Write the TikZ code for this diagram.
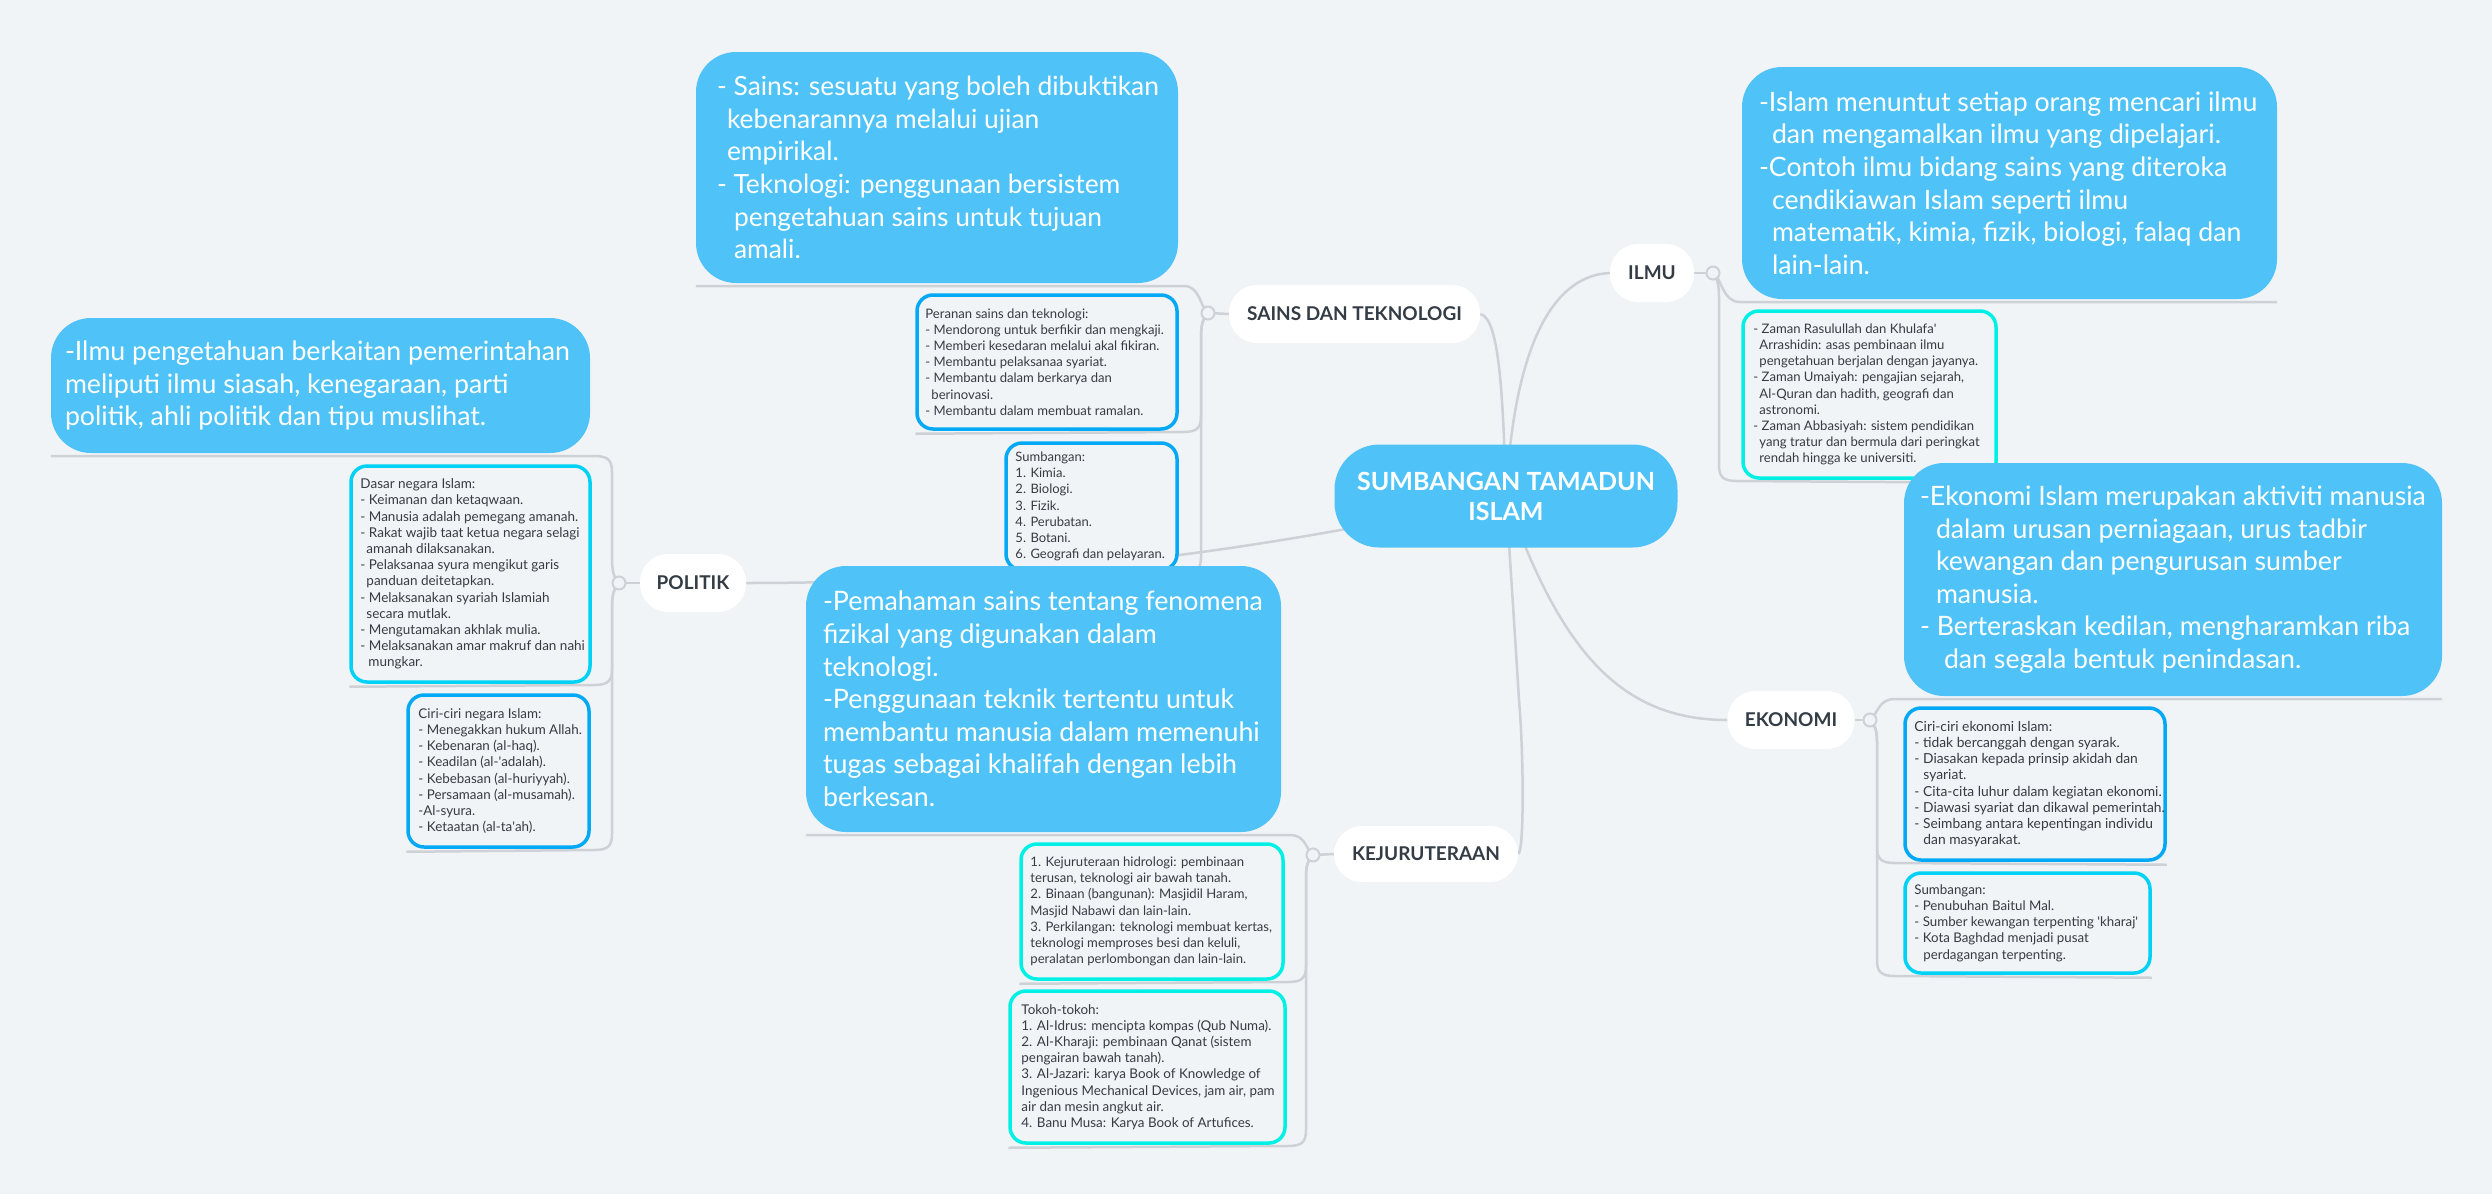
\documentclass[tikz,border=0pt]{standalone}
\usepackage{fontspec}
\setmainfont{Lato}
\usetikzlibrary{backgrounds}
\definecolor{bgc}{RGB}{240,244,247}
\definecolor{conn}{RGB}{206,210,214}
\definecolor{bfill}{RGB}{79,195,247}
\definecolor{bluebd}{RGB}{3,169,244}
\definecolor{cyanbd}{RGB}{0,210,245}
\definecolor{aquabd}{RGB}{0,240,230}
\definecolor{txt}{RGB}{55,60,66}
\definecolor{head}{RGB}{52,60,70}
\newcommand{\aq}{\textquotesingle}
\begin{document}
\begin{tikzpicture}[x=1pt,y=-1pt,
  conline/.style={draw=conn, line width=2.5pt},
  bigbox/.style={fill=bfill, rounded corners=40pt, inner sep=0pt},
  bigtext/.style={text=white, font=\fontsize{#1}{32.6}\selectfont, align=left, inner sep=0pt, anchor=west},
  smallbox/.style={draw=#1, line width=3.5pt, fill=bgc, rounded corners=16pt, inner sep=0pt},
  smalltext/.style={text=txt, font=\fontsize{#1}{16.2}\selectfont, align=left, inner sep=0pt, anchor=west},
  topic/.style={fill=white, rounded corners=28pt, inner sep=0pt, font=\bfseries\fontsize{19}{22}\selectfont, text=head},
  knob/.style={circle, draw=conn, line width=2pt, fill=bgc, minimum size=13pt, inner sep=0pt},
]
\useasboundingbox (0,0) rectangle (2492,1194);
\begin{scope}[on background layer]
\fill[bgc] (0,0) rectangle (2492,1194);
\end{scope}

% ---------- central ----------
\node[bigbox, rounded corners=45pt, minimum width=343pt, minimum height=103pt, text=white,
  font=\bfseries\fontsize{25}{30}\selectfont, align=center] (central) at (1506,496) {SUMBANGAN TAMADUN\\ISLAM};

% ---------- topics ----------
\node[topic, minimum width=251pt, minimum height=58pt] (sains) at (1354.5,314) {SAINS DAN TEKNOLOGI};
\node[topic, minimum width=84pt, minimum height=58pt] (ilmu) at (1652,273) {ILMU};
\node[topic, minimum width=127pt, minimum height=58pt] (eko) at (1791,720) {EKONOMI};
\node[topic, minimum width=184pt, minimum height=56pt] (kej) at (1426,854) {KEJURUTERAAN};
\node[topic, minimum width=106pt, minimum height=58pt] (politik) at (693,583) {POLITIK};

% ---------- SAINS children ----------
\node[bigbox, minimum width=482pt, minimum height=231pt] (sainsbox) at (937,167.5) {};
\node[bigtext=26.4] (sainstxt) at ([xshift=21pt]sainsbox.west) {- Sains: sesuatu yang boleh dibuktikan\\\hspace*{10pt}kebenarannya melalui ujian\\\hspace*{10pt}empirikal.\\- Teknologi: penggunaan bersistem\\\hspace*{17pt}pengetahuan sains untuk tujuan\\\hspace*{17pt}amali.};
\node[smallbox=bluebd, minimum width=260pt, minimum height=134pt] (peranan) at (1047,362) {};
\node[smalltext=13.1] (perananT) at ([xshift=10pt]peranan.west) {Peranan sains dan teknologi:\\- Mendorong untuk berfikir dan mengkaji.\\- Memberi kesedaran melalui akal fikiran.\\- Membantu pelaksanaa syariat.\\- Membantu dalam berkarya dan\\\hspace*{6pt}berinovasi.\\- Membantu dalam membuat ramalan.};
\node[smallbox=bluebd, minimum width=171pt, minimum height=127pt] (sumbs) at (1091.5,506.5) {};
\node[smalltext=13.0] (sumbsT) at ([xshift=11pt]sumbs.west) {Sumbangan:\\1. Kimia.\\2. Biologi.\\3. Fizik.\\4. Perubatan.\\5. Botani.\\6. Geografi dan pelayaran.};

% ---------- ILMU children ----------
\node[bigbox, minimum width=535pt, minimum height=232pt] (ilmubox) at (2009.5,183) {};
\node[bigtext=26.7] (ilmutxt) at ([xshift=17pt]ilmubox.west) {-Islam menuntut setiap orang mencari ilmu\\\hspace*{13pt}dan mengamalkan ilmu yang dipelajari.\\-Contoh ilmu bidang sains yang diteroka\\\hspace*{13pt}cendikiawan Islam seperti ilmu\\\hspace*{13pt}matematik, kimia, fizik, biologi, falaq dan\\\hspace*{13pt}lain-lain.};
\node[smallbox=aquabd, minimum width=253pt, minimum height=167pt] (ilmucyan) at (1869.5,394.5) {};
\node[smalltext=13.1] (ilmucyanT) at ([xshift=12pt]ilmucyan.west) {- Zaman Rasulullah dan Khulafa\aq\\\hspace*{6pt}Arrashidin: asas pembinaan ilmu\\\hspace*{6pt}pengetahuan berjalan dengan jayanya.\\- Zaman Umaiyah: pengajian sejarah,\\\hspace*{6pt}Al-Quran dan hadith, geografi dan\\\hspace*{6pt}astronomi.\\- Zaman Abbasiyah: sistem pendidikan\\\hspace*{6pt}yang tratur dan bermula dari peringkat\\\hspace*{6pt}rendah hingga ke universiti.};

% ---------- EKONOMI children ----------
\node[bigbox, minimum width=538pt, minimum height=233pt] (ekobox) at (2173,579.5) {};
\node[bigtext=26.7] (ekotxt) at ([xshift=16pt]ekobox.west) {-Ekonomi Islam merupakan aktiviti manusia\\\hspace*{16pt}dalam urusan perniagaan, urus tadbir\\\hspace*{16pt}kewangan dan pengurusan sumber\\\hspace*{16pt}manusia.\\- Berteraskan kedilan, mengharamkan riba\\\hspace*{24pt}dan segala bentuk penindasan.};
\node[smallbox=bluebd, minimum width=260pt, minimum height=152pt] (eko1) at (2035,784) {};
\node[smalltext=13.8] (eko1T) at ([xshift=11pt]eko1.west) {Ciri-ciri ekonomi Islam:\\- tidak bercanggah dengan syarak.\\- Diasakan kepada prinsip akidah dan\\\hspace*{9pt}syariat.\\- Cita-cita luhur dalam kegiatan ekonomi.\\- Diawasi syariat dan dikawal pemerintah.\\- Seimbang antara kepentingan individu\\\hspace*{9pt}dan masyarakat.};
\node[smallbox=cyanbd, minimum width=245pt, minimum height=100pt] (eko2) at (2027.5,923) {};
\node[smalltext=13.3] (eko2T) at ([xshift=11pt]eko2.west) {Sumbangan:\\- Penubuhan Baitul Mal.\\- Sumber kewangan terpenting \aq kharaj\aq\\- Kota Baghdad menjadi pusat\\\hspace*{9pt}perdagangan terpenting.};

% ---------- KEJURUTERAAN children ----------
\node[bigbox, minimum width=475pt, minimum height=266pt] (pemahaman) at (1043.5,699) {};
\node[bigtext=26.8] (pemahamanT) at ([xshift=17pt]pemahaman.west) {-Pemahaman sains tentang fenomena\\fizikal yang digunakan dalam\\teknologi.\\-Penggunaan teknik tertentu untuk\\membantu manusia dalam memenuhi\\tugas sebagai khalifah dengan lebih\\berkesan.};
\node[smallbox=aquabd, minimum width=262pt, minimum height=135pt] (kej1) at (1152,911.5) {};
\node[smalltext=13.1] (kej1T) at ([xshift=11pt]kej1.west) {1. Kejuruteraan hidrologi: pembinaan\\terusan, teknologi air bawah tanah.\\2. Binaan (bangunan): Masjidil Haram,\\Masjid Nabawi dan lain-lain.\\3. Perkilangan: teknologi membuat kertas,\\teknologi memproses besi dan keluli,\\peralatan perlombongan dan lain-lain.};
\node[smallbox=aquabd, minimum width=275pt, minimum height=152pt] (kej2) at (1147.5,1067) {};
\node[smalltext=13.4] (kej2T) at ([xshift=13pt]kej2.west) {Tokoh-tokoh:\\1. Al-Idrus: mencipta kompas (Qub Numa).\\2. Al-Kharaji: pembinaan Qanat (sistem\\pengairan bawah tanah).\\3. Al-Jazari: karya Book of Knowledge of\\Ingenious Mechanical Devices, jam air, pam\\air dan mesin angkut air.\\4. Banu Musa: Karya Book of Artufices.};

% ---------- POLITIK children ----------
\node[bigbox, minimum width=539pt, minimum height=135pt] (polbox) at (320.5,385.5) {};
\node[bigtext=26.7] (poltxt) at ([xshift=14pt]polbox.west) {-Ilmu pengetahuan berkaitan pemerintahan\\meliputi ilmu siasah, kenegaraan, parti\\politik, ahli politik dan tipu muslihat.};
\node[smallbox=cyanbd, minimum width=239pt, minimum height=216pt] (dasar) at (470.5,574) {};
\node[smalltext=13.5] (dasarT) at ([xshift=11pt]dasar.west) {Dasar negara Islam:\\- Keimanan dan ketaqwaan.\\- Manusia adalah pemegang amanah.\\- Rakat wajib taat ketua negara selagi\\\hspace*{6pt}amanah dilaksanakan.\\- Pelaksanaa syura mengikut garis\\\hspace*{6pt}panduan deitetapkan.\\- Melaksanakan syariah Islamiah\\\hspace*{6pt}secara mutlak.\\- Mengutamakan akhlak mulia.\\- Melaksanakan amar makruf dan nahi\\\hspace*{8pt}mungkar.};
\node[smallbox=bluebd, minimum width=181pt, minimum height=152pt] (ciri) at (498.5,771) {};
\node[smalltext=13.4] (ciriT) at ([xshift=12pt]ciri.west) {Ciri-ciri negara Islam:\\- Menegakkan hukum Allah.\\- Kebenaran (al-haq).\\- Keadilan (al-\aq adalah).\\- Kebebasan (al-huriyyah).\\- Persamaan (al-musamah).\\-Al-syura.\\- Ketaatan (al-ta\aq ah).};

% ---------- knobs ----------
\node[knob] (ksains) at (1208,313) {};
\node[knob] (kilmu) at (1713,273) {};
\node[knob] (keko) at (1870,720) {};
\node[knob] (kkej) at (1313,855) {};
\node[knob] (kpol) at (619,583) {};

% ---------- connectors ----------
\begin{scope}[on background layer]
\draw[conline] (sains.east) .. controls (1500,318) and (1503,400) .. (central.center);
\draw[conline] (ilmu.west) .. controls (1560,275) and (1515,330) .. (central.center);
\draw[conline] (kej.east) .. controls (1524,852) and (1524,760) .. (1519,700) .. controls (1514,620) and (1510,560) .. (central.center);
\draw[conline] (eko.west) .. controls (1620,720) and (1560,650) .. (central.center);
\draw[conline] (politik.east) .. controls (1000,583) and (1250,555) .. (central.center);
% topic to knob
\draw[conline] (sains.west) -- (ksains.center);
\draw[conline] (ilmu.east) -- (kilmu.center);
\draw[conline] (eko.east) -- (keko.center);
\draw[conline] (kej.west) -- (kkej.center);
\draw[conline] (politik.west) -- (kpol.center);
% SAINS children
\draw[conline] (ksains.center) .. controls (1200,307) and (1200,286) .. (1184,286) -- ([yshift=-3pt]sainsbox.south west);
\draw[conline] (ksains.center) .. controls (1201,320) and (1201,330) .. (1201,340) -- (1201,416) .. controls (1201,428) and (1197,432) .. (1183,432) -- ([yshift=-3pt]peranan.south west);
\draw[conline] (ksains.center) .. controls (1201,320) and (1201,330) .. (1201,340) -- (1201,557) .. controls (1201,569) and (1197,573) .. (1183,573) -- ([yshift=-3pt]sumbs.south west);
% ILMU children
\draw[conline] (kilmu.center) .. controls (1722,278) and (1722,302) .. (1740,302) -- ([yshift=-3pt]ilmubox.south east);
\draw[conline] (kilmu.center) .. controls (1719,280) and (1719,290) .. (1719,300) -- (1719,465) .. controls (1719,477) and (1723,481) .. (1737,481) -- ([yshift=-3pt]ilmucyan.south east);
% EKONOMI children
\draw[conline] (keko.center) .. controls (1878,714) and (1878,699) .. (1895,699) -- ([yshift=-3pt]ekobox.south east);
\draw[conline] (keko.center) .. controls (1877,727) and (1877,735) .. (1877,745) -- (1877,847) .. controls (1877,859) and (1881,863) .. (1895,863) -- ([yshift=-3pt]eko1.south east);
\draw[conline] (keko.center) .. controls (1877,727) and (1877,735) .. (1877,745) -- (1877,960) .. controls (1877,972) and (1881,976) .. (1895,976) -- ([yshift=-3pt]eko2.south east);
% KEJURUTERAAN children
\draw[conline] (kkej.center) .. controls (1306,850) and (1306,835) .. (1290,835) -- ([yshift=-3pt]pemahaman.south west);
\draw[conline] (kkej.center) .. controls (1306,862) and (1306,870) .. (1306,880) -- (1306,966) .. controls (1306,978) and (1302,982) .. (1288,982) -- ([yshift=-3pt]kej1.south west);
\draw[conline] (kkej.center) .. controls (1306,862) and (1306,870) .. (1306,880) -- (1306,1130) .. controls (1306,1142) and (1302,1146) .. (1288,1146) -- ([yshift=-3pt]kej2.south west);
% POLITIK children
\draw[conline] (kpol.center) .. controls (612,576) and (612,566) .. (612,556) -- (612,472) .. controls (612,460) and (608,456) .. (594,456) -- ([yshift=-3pt]polbox.south west);
\draw[conline] (kpol.center) .. controls (612,590) and (612,600) .. (612,610) -- (612,669) .. controls (612,681) and (608,685) .. (594,685) -- ([yshift=-3pt]dasar.south west);
\draw[conline] (kpol.center) .. controls (612,590) and (612,600) .. (612,610) -- (612,834) .. controls (612,846) and (608,850) .. (594,850) -- ([yshift=-3pt]ciri.south west);
\end{scope}
\end{tikzpicture}
\end{document}
